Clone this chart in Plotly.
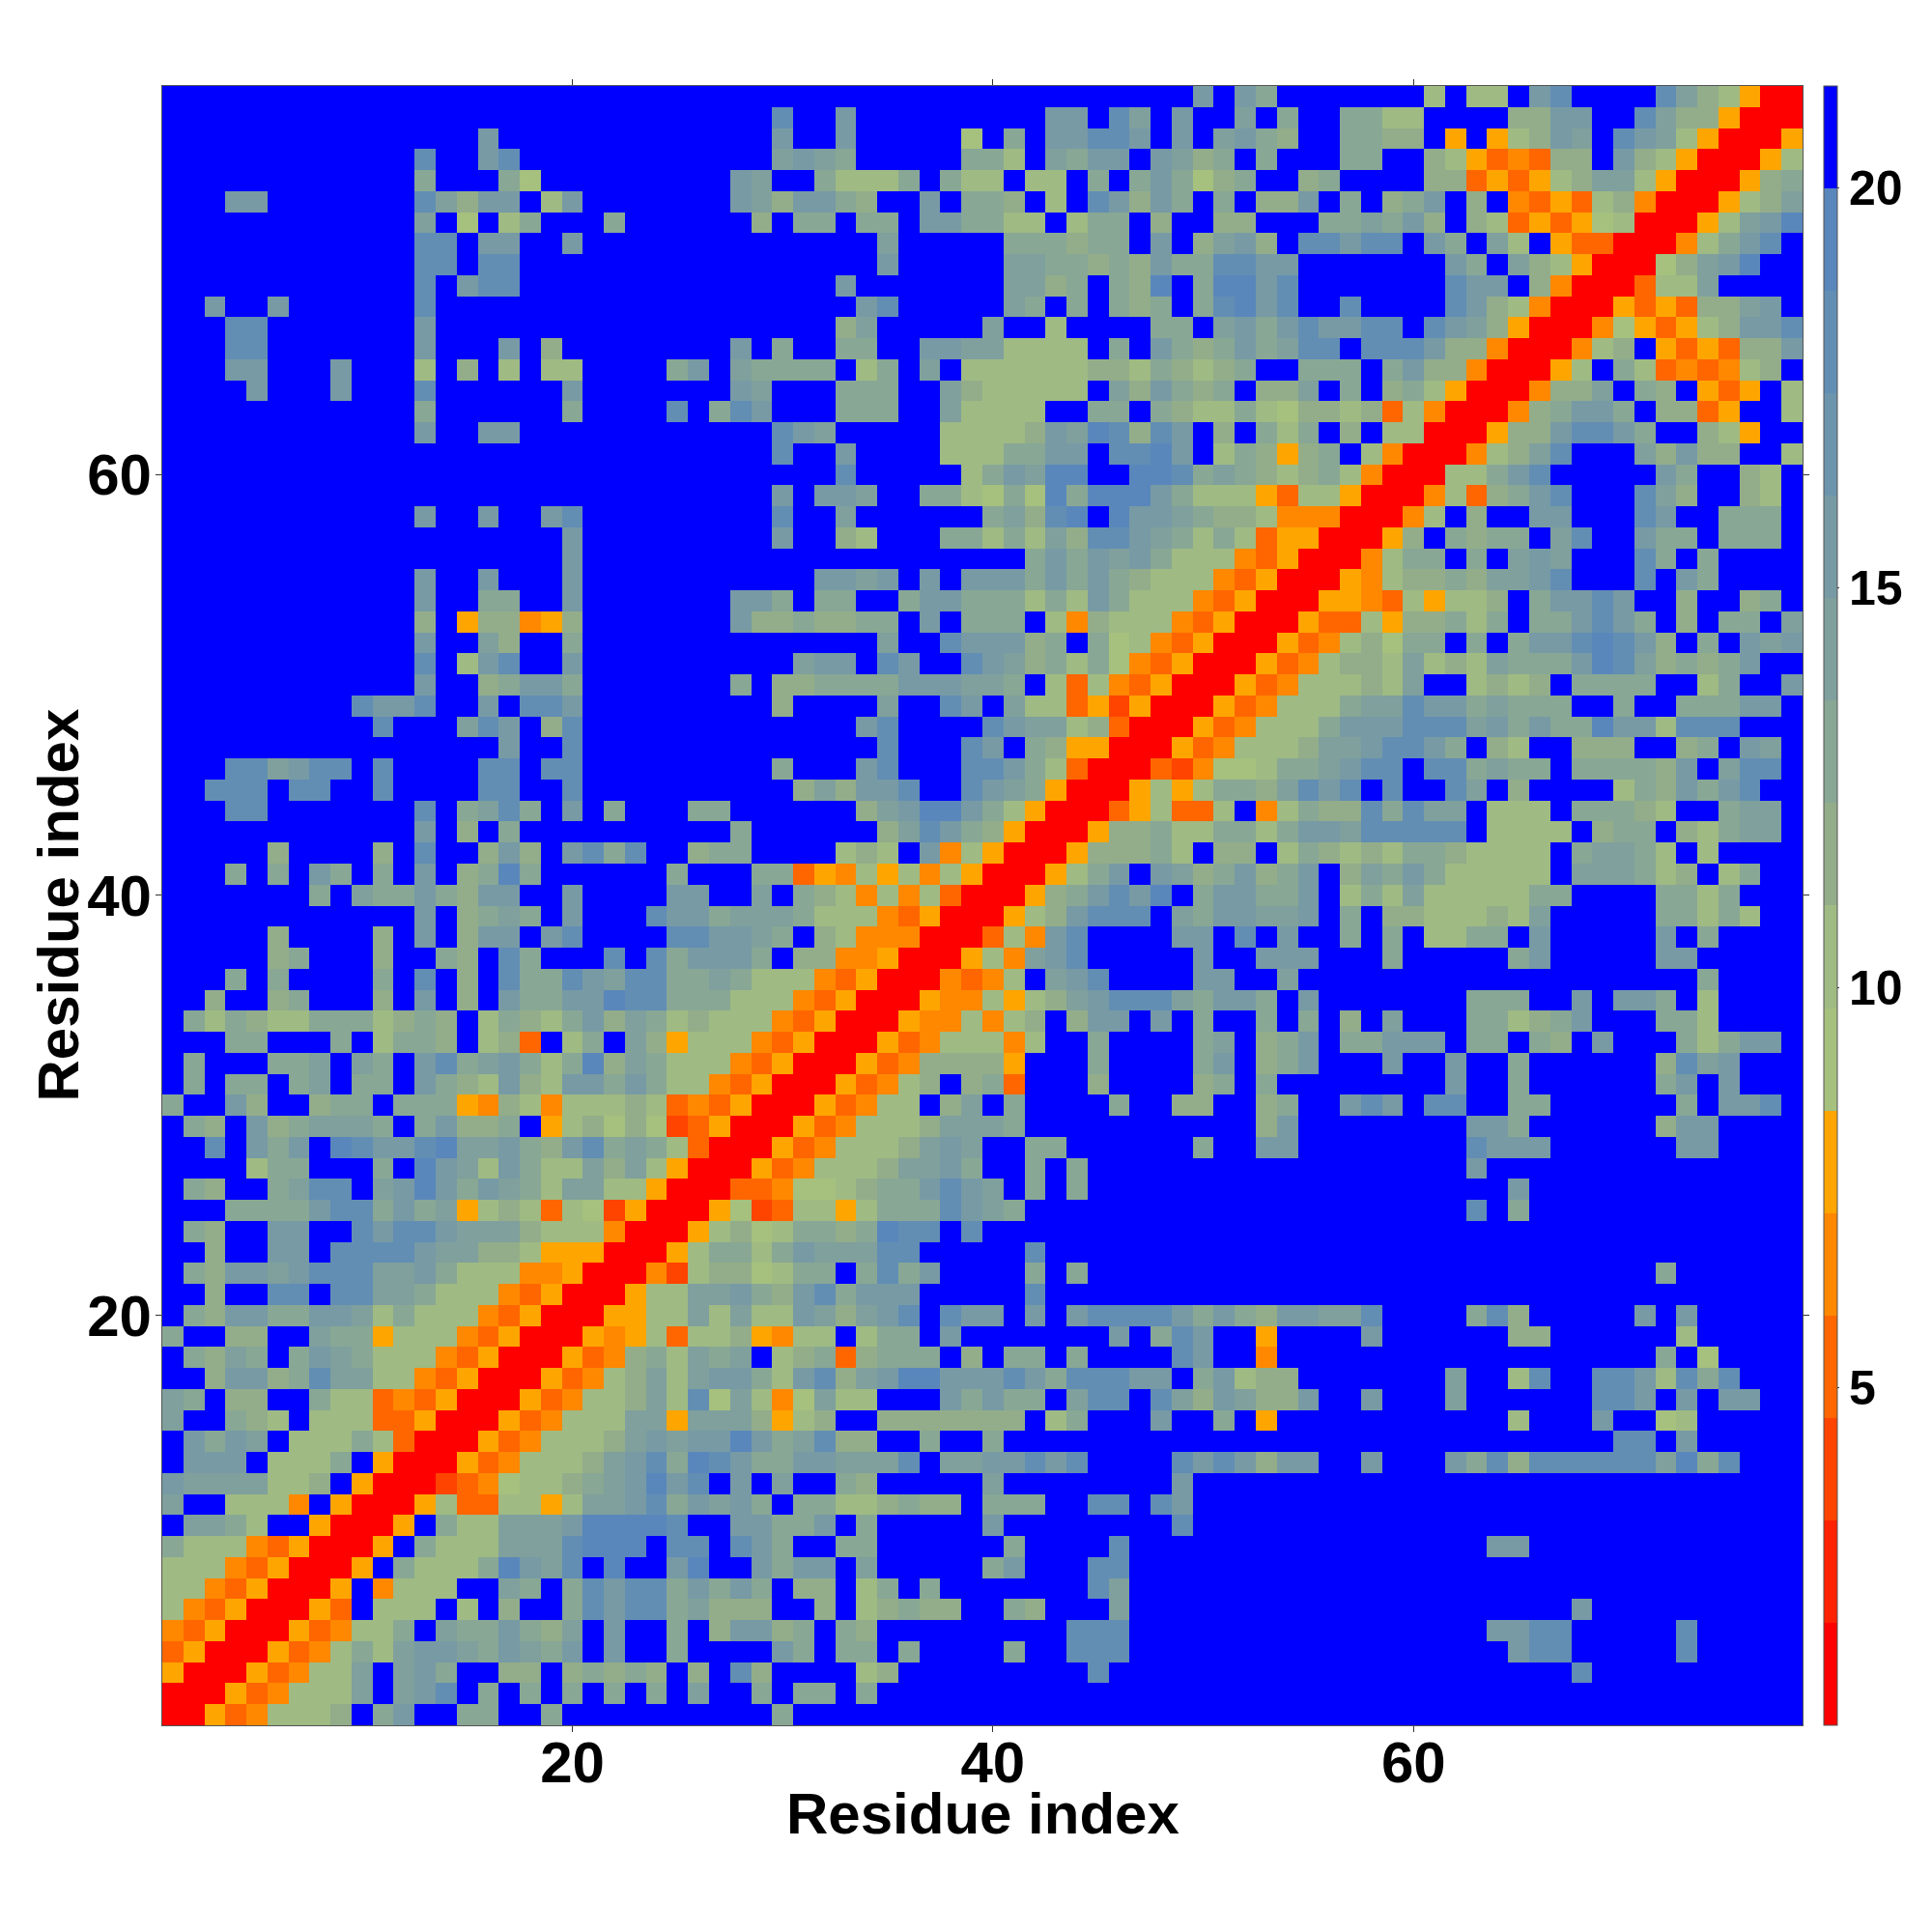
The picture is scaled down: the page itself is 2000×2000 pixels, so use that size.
import plotly.graph_objects as go

# Each row (top to bottom) = cols 1-26 + cols 27-52 + cols 53-78, one character per cell.
rows_left = """
..........................
..........................
...............c..........
............d..cd.........
............a...a7........
...cc.......db9cc.8c......
............b.7.8a...a....
............dd.cc..c......
............dd.dd.........
............d.cdd.........
..c..c......d.............
...dd.......c.............
...dd.......c...c.9.......
...cc...c...8.9.8.88....ac
....c...c...d......c......
............a......a....d.
............c..cc.........
..........................
..........................
..........................
............c..c..cd......
...................c......
...................c......
............c..c...c......
............c..aa..c......
............9.599459......
............c..b9..a......
............d.8cd..c......
............c..9acca......
.........dccd..c.ddc......
..........d...bdc.9d......
................c..d......
...ddbcdd.d....dd.dd......
..ddd.dd..d....dd..d......
...dd.......d.abda.c.a...a
............c.9.a.........
.....9....9.d..9c9.cdad..9
...a.a.ca.a.c.9aea......a.
.......a.baaca9cc..c....cc
............c.9aba.c...dcc
.....9....9.c.9cc.cd....dd
.....9a...9..a9.da...d.dac
...a.a....a.d.9.daadcbddaa
..9..9a...9.c.9.caacceddaa
.a8a988aaa89a9.8a98ac9ba89
...aa...a.8aa9.893.8a.b958
.a...aab.ba.cdabca8ae9ba88
.a.aa.ab.aa.ca98c98ccaca88
a..c9..9aa.aaa549848889834
.a9.c9abbba.ac99a.58979723
..d.cac.edccdebbca9cdaba83
....8aa...a.ecb8ca88b9b850
.a9..abdd.bcecacba8bb88500
...aaaacddacab589838725000
.a9..cc..dcddcbbb988840005
..9..cc.ddddcbb99855500058
.a9ccbcdddbbca888445000428
..9..dd.ddbba888435000588b
.a9ccaaccb8a8884350005588b
a..99..baa5888435000545838
.a9ba.acba8884350005349a8b
..9cc9adbb8843500053489b8b
ba.99..a883435000534889b8d
b..a98.888335000534888bb5b
.cacb.888a830005348889bcbc
.ccc.888a.50005348889bcdae
cbbbb889.50002347889abcecd
b..8884.500058338858bbcdac
.bba8..50005.a88bbbceeeed.
a8884350005.a888bbbdeee.dd
8884350005.a888aecbd.e..ce
884350005.4888..ba.adcddac
843500053.888.8.9..adcddab
43500053488a.baaca9b.c..a.
350005348a8bccbacbac.c..a.
500053488b.bca..99.9a9a9.9
000534888b.bcd.a.a.a.a.a.b
005348889.ac..aa..a.......
""".split()

rows_middle = """
.......................c.c
...d..c.........cc.db.c..b
...c..c.....7.a.ccddc.c.bc
...bcba.....aa8.bacc.cb9a.
.cb..a888a.a88.88.a.aca79a
.cb9cca9..c.aa9.8.dc9ca.a.
..9.aa.aa.ccaa88.8aa.9..99
........b.....aaa9aa.c.9bc
........c.....bbaa9a9caadd
......c.......bb9a.a9e.aee
.......cd.....ba.a.a9a.ade
......9b.....b..8....aa.bc
.c.a..aa..ccbb8888.a.ca9ac
.baaaa.8a.b.888888998a989a
.cb...aaa..b988888.b9ca9a.
adc...aaa..b8888..aa.a988a
...dcb.....88889cbed9dc.9.
...d..c....888aacc.ddec.8a
......d.....8acbee..eedaba
...c.ccb..aa87a7eaeeeca888
...d..b......ab9de.eccba99
...c..98...aa8a8b9ddcba8a8
...............acacbca8884
.....ccbc.c.cccacaca988843
.cca.aa..accaaa8a8ca888435
.c99a99aa.c.aaa.8498884350
........b..dccc9a.a7843500
....bcc.dc..dcb9a8a7435000
.a.99aaaacccbba.8384350005
...9....b..dc.b88352500053
.......cd....dcbb893000534
........d...dc.a9550005348
...a...cd...ddca8300032477
....9b9ccd..dcba50005858aa
a......9bceeca85000358338.
.a......9bdca95000599a88aa
aa....898.c4850005999a8.99
..aa35485848500058ac.cb9ac
..b.a984848300059acdce.acc
abbba888435000589cddd.bacc
ccba.98444000384cd....cc.d
cca.99445000584bcd.....c..
ba8884350004348.bcd....cc.
a8884350005448589bcdddbacc
8884350005448489.9cc.c.a..
8843500053488848..a....ab.
843500053499995...a....ac.
43500053489.9a3...9....9a.
3500053488.9b.a....a..99..
50005348889bbba...........
0005348889bcb..aa......a..
005348889bbca..a.a........
03347789aacdcb.a.a........
57238858aaadcba...........
8978aa9aedd.d.............
aa8acbbbdd.....d..........
9978aa.adac....a.a........
bca9cdaccc.....d..........
8b88cb9bcd.dcc.c.cddddcaca
895488.8aa.c.......c.adc..
ab.89a39aaa.9.aa.a....dc..
cca8cd9bceecccdcadddcc.ac8
7b847b88...cacaa.bdd.db9cb
bb9589..9999999.8a...c..a.
cecabd99..a..a............
dcaaccbbbd.bbccdcd....dcdc
.c.b..a9.....b........c...
bca.aa889a99.aaa..dd.dc...
.ccaac.a.....c........d...
.dca..aa......a....d......
..cacc.b.....ac...dd......
aca.99.8a.a.......db......
999..9.89a99..a9...b......
9cc9a.a9.........ddd......
...ca.aa.a....a..ddd......
.d9....89.........d.......
..a.aa.a..................
...a......................
""".split()

rows_right = """
a.......8.88.cd....db98500
.a..aa88....99cc..db995000
a9..aa99.5.589cb.dcb850005
a...aa..98534399.c98500058
..9a....99353589bb8500059a
99c.a.9ac.9.4353894000589b
...aabac9.9835357800058bce
9.ddcdd.ca.b8.53300048acd.
cc.......ca.b98500079bce..
cd.......dcc.94000388b....
cd..d....dc984000535399bc.
acdccdd.dcb950004753589ccd
abdd.dddc994000489.535399c
..aaa.ac99400058.a8343489.
99b.a.9a85000499b.a9.535.8
87998938400049acca.9935..8
a8a.9.88000599cddca..985..
959a.84000489bd...b9c99..8
989a8400088acd.....ca..98.
538850004839acd...db9..98.
844400048.9..cc...dc..aaa.
35500059.a9aa.bd..caa.aaa.
3500048aa.a.bcb...da.a....
500054899a9bbcd...d.ca....
000554385889.accdc..9..9a.
005338599a8a.aacdca.9.aa.b
0534897aa.a.accdedc9.a.cbc
5348998b898baaacedb9a9ac..
3488898b..8989.aaaa..8a..c
4888abbdccabaaa..a..aaacc.
888acccdddbcacaaecc8ddd...
889bbcddca.98..999..9a.cb.
8aabcdd.ddabaa.aaaa9c.bdd.
9bdcd.d..db.9....8a9cacd..
48a99dadbb.888.aaa98..abb.
8accbddddd.8888.9aa.98abb.
.8a9898aa98888.abba8.8....
9ac.9baca88888.bbba89.8a..
aac.8a8b88888aa....aa8a...
bbc.a.9988898b.....aa8a8..
.c..a.a.88aa.c.....c.a....
ccc...a.....ac.....cc.....
.b...................a....
a.c.......aaa..c.cca.8....
a.a.9.b...aa89ac...aa8....
9ac.aaccc.aa.a9.c...a8acc.
9ac...c..c..a......9dbc...
a........c..a......ac.c...
9a..cdc.dd..aa......a.ccd.
9c........cca......9cc....
cc........dccc......cc....
..........c...............
............c.............
..........d.a.............
..........................
..........................
...................a......
..........................
9ccbbd....ad9.....c.c.....
5....c......99......8.....
4..................a.7....
99.......b..8d..ddc8dad...
99c..c...b......ddc.c.cc..
5...........8...c..78.....
.................dd.c.....
9cc..c...cad9ddddddbead...
..........................
..........................
..........................
...........cc.............
..........................
..........................
...............c..........
...........ccdd.....d.....
............cdd.....d.....
...............d..........
..........................
..........................
""".split()

cell_values = {
    "0": 1.4, "1": 2.7, "2": 4.0, "3": 5.3, "4": 6.5, "5": 7.8,
    "7": 9.1, "8": 10.4, "9": 11.7, "a": 12.9, "b": 14.2, "c": 15.5,
    "d": 18.1, "e": 19.4, ".": 20.7,
}
residues = list(range(1, 79))
band_colors = [
    "#ff0000", "#ff2200", "#ff4400", "#ff6600", "#ff8800", "#ffa500",
    "#a6c07e", "#9fba83", "#93ad8a", "#88a795", "#7fa09c", "#779aa5",
    "#6d94ad", "#628eb4", "#5a87bb", "#0000ff",
]
z_min, z_max = 0.78, 21.27
axis_label = "Residue index"

z = [[cell_values[ch] for ch in a + b + c] for a, b, c in zip(rows_left, rows_middle, rows_right)]

scale = []
for i, col in enumerate(band_colors):
    scale.append([i / len(band_colors), col])
    scale.append([(i + 1) / len(band_colors), col])

FONT = "Liberation Sans"
title_font = dict(family=FONT, size=60, color="black", weight="bold")
fig = go.Figure(go.Heatmap(
    z=z, x=residues, y=residues[::-1],
    colorscale=scale, zmin=z_min, zmax=z_max, xgap=0, ygap=0,
    colorbar=dict(
        thickness=14, thicknessmode="pixels", len=1, lenmode="fraction",
        x=1.0127, xanchor="left", y=0.5, yanchor="middle", xpad=0, ypad=0,
        tickvals=[5, 10, 15, 20], ticks="outside", ticklen=2, tickwidth=1, tickcolor="#333",
        outlinewidth=1, outlinecolor="#555",
        tickfont=dict(family=FONT, size=50, color="black", weight="bold"),
    ),
))
axis = dict(
    range=[0.5, 78.5], tickvals=[20, 40, 60], ticks="outside", ticklen=6, tickwidth=1,
    tickcolor="#333", showline=True, linecolor="#555", linewidth=1, mirror="allticks",
    showgrid=False, zeroline=False,
    tickfont=dict(family=FONT, size=60, color="black", weight="bold"),
)
fig.update_layout(
    width=2000, height=2000,
    margin=dict(l=160, r=142, t=81, b=222, pad=0),
    paper_bgcolor="white", plot_bgcolor="white",
    xaxis=dict(axis, ticklabelstandoff=-20),
    yaxis=dict(axis, ticklabelstandoff=-8),
    annotations=[
        dict(text=axis_label, xref="paper", yref="paper", x=0.5, y=-0.0542,
             xanchor="center", yanchor="middle", showarrow=False, font=title_font),
        dict(text=axis_label, xref="paper", yref="paper", x=-0.0636, y=0.5,
             xanchor="center", yanchor="middle", showarrow=False, textangle=-90, font=title_font),
    ],
)
fig.write_html("out.html")
